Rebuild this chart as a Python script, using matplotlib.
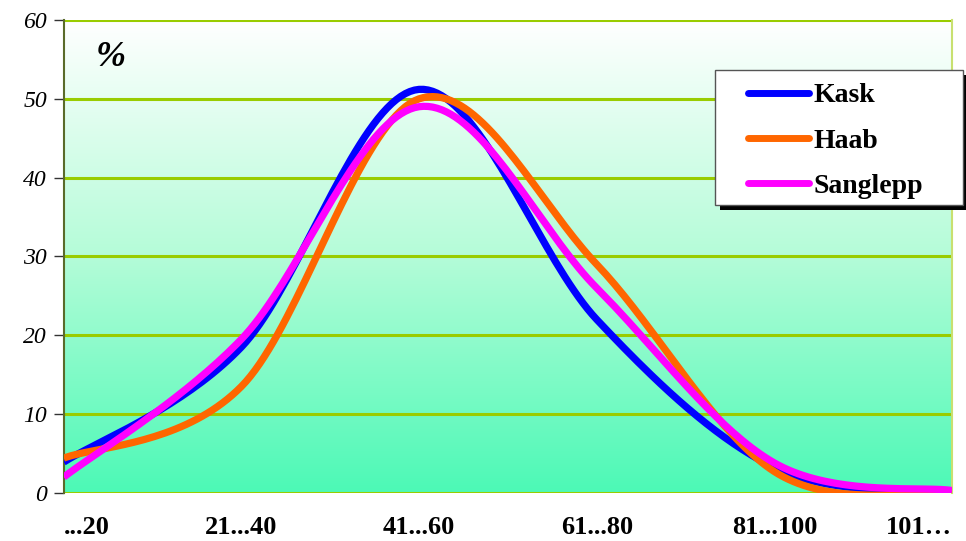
import numpy as np
import matplotlib.pyplot as plt
from matplotlib.colors import LinearSegmentedColormap
from matplotlib.patches import Rectangle

categories = ['...20', '21...40', '41...60', '61...80', '81...100', '101…']
kask = [3.9, 18.5, 51.2, 22.0, 3.2, 0.0]
haab = [4.4, 13.5, 50.0, 29.0, 2.7, 0.0]
sanglepp = [2.0, 19.5, 49.0, 26.0, 3.8, 0.3]

plt.rcParams['font.family'] = ['Liberation Serif', 'DejaVu Serif']


def smooth(y, n=40):
    # Excel-style smoothing: bezier through every point
    y = np.asarray(y, float)
    x = np.arange(len(y), dtype=float)
    xs, ys = [], []
    for i in range(len(y) - 1):
        p0 = (x[max(i - 1, 0)], y[max(i - 1, 0)])
        p1 = (x[i], y[i])
        p2 = (x[i + 1], y[i + 1])
        p3 = (x[min(i + 2, len(y) - 1)], y[min(i + 2, len(y) - 1)])
        c1 = (p1[0] + (p2[0] - p0[0]) / 6, p1[1] + (p2[1] - p0[1]) / 6)
        c2 = (p2[0] - (p3[0] - p1[0]) / 6, p2[1] - (p3[1] - p1[1]) / 6)
        t = np.linspace(0, 1, n)
        b = [(1 - t) ** 3, 3 * (1 - t) ** 2 * t, 3 * (1 - t) * t ** 2, t ** 3]
        xs.append(b[0] * p1[0] + b[1] * c1[0] + b[2] * c2[0] + b[3] * p2[0])
        ys.append(b[0] * p1[1] + b[1] * c1[1] + b[2] * c2[1] + b[3] * p2[1])
    return np.concatenate(xs), np.concatenate(ys)


W, H = 966, 541
fig = plt.figure(figsize=(W / 100, H / 100), dpi=100)
ax = fig.add_axes([0.066, 0.089, 0.9195, 0.874])

# gradient background
cmap = LinearSegmentedColormap.from_list('bg', ['#4cf9b6', '#b4fcd8', '#ffffff'])
grad = np.linspace(0, 1, 256).reshape(-1, 1)
ax.imshow(grad, cmap=cmap, origin='lower', aspect='auto',
          extent=[0, len(categories) - 1, 0, 60], zorder=0)

for v in range(0, 61, 10):
    ax.axhline(v, color='#99cc00', lw=2.2, zorder=1)

for data, col, lab in [(kask, '#0000ff', 'Kask'),
                       (haab, '#ff6600', 'Haab'),
                       (sanglepp, '#ff00ff', 'Sanglepp')]:
    xs, ys = smooth(data)
    ax.plot(xs, ys, color=col, lw=5.2, label=lab, zorder=3,
            solid_capstyle='butt')

ax.set_xlim(0, len(categories) - 1)
ax.set_ylim(0, 60)
ax.set_yticks(range(0, 61, 10))
ax.set_yticklabels([str(v) for v in range(0, 61, 10)], fontsize=17, style='italic')
ax.tick_params(axis='y', length=7, width=1, color='#333333', pad=5)
ax.set_xticks(range(len(categories)))
ax.set_xticklabels(categories, fontsize=19, fontweight='bold')
ax.tick_params(axis='x', length=0, pad=17)
labs = ax.get_xticklabels()
labs[0].set_ha('left')
labs[-1].set_ha('right')

for s in ['top', 'bottom']:
    ax.spines[s].set_visible(False)
ax.spines['left'].set_color('#5a6b2a')
ax.spines['left'].set_linewidth(1.5)
ax.spines['right'].set_color('#c8e070')
ax.spines['right'].set_linewidth(1.5)

ax.text(0.036, 0.955, '%', transform=ax.transAxes, fontsize=26,
        fontweight='bold', style='italic', va='top')

# legend box with black drop shadow
bx0, bx1, by0, by1 = 715 / W, 963 / W, 1 - 205 / H, 1 - 70 / H
fig.patches.append(Rectangle((bx0 + 5 / W, by0 - 5 / H), bx1 - bx0, by1 - by0,
                             transform=fig.transFigure, facecolor='black',
                             edgecolor='none', zorder=4))
fig.patches.append(Rectangle((bx0, by0), bx1 - bx0, by1 - by0,
                             transform=fig.transFigure, facecolor='white',
                             edgecolor='#555555', lw=1, zorder=4.5))

leg = fig.legend(loc='center left', bbox_to_anchor=(748 / W, 1 - 141 / H),
                 prop={'weight': 'bold', 'size': 20}, frameon=False,
                 handlelength=2.2, handletextpad=0.15, labelspacing=0.72,
                 borderpad=0, borderaxespad=0)
for h in leg.get_lines():
    h.set_solid_capstyle('round')
    h.set_linewidth(5)
leg.set_zorder(6)

fig.savefig('out.png', dpi=100)
